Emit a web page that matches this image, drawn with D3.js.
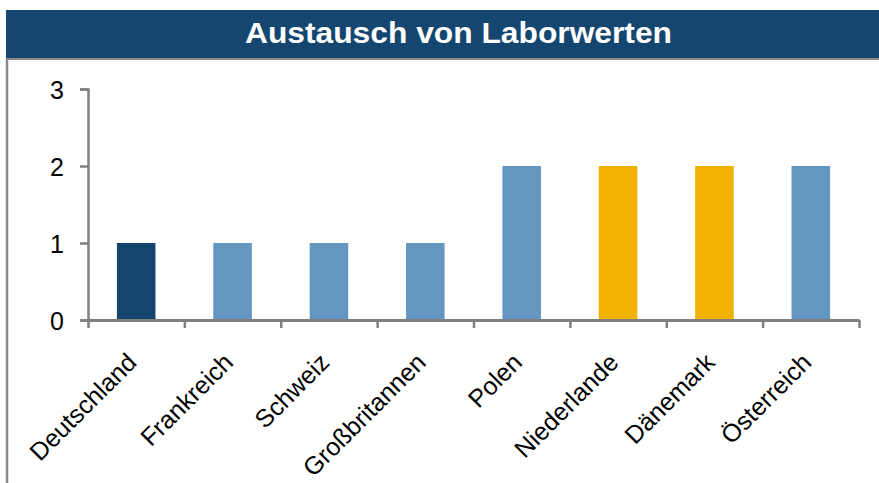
<!DOCTYPE html>
<html>
<head>
<meta charset="utf-8">
<script src="https://cdn.jsdelivr.net/npm/d3@7"></script>
<style>
  html, body { margin: 0; padding: 0; background: #fff; }
  svg { display: block; font-family: "Liberation Sans", Arial, sans-serif; }
</style>
</head>
<body>
<div id="chart"></div>
<script>
// Chart data
const title = 'Austausch von Laborwerten';
const countries = ['Deutschland', 'Frankreich', 'Schweiz', 'Großbritannen', 'Polen', 'Niederlande', 'Dänemark', 'Österreich'];
const values = [1, 1, 1, 1, 2, 2, 2, 2];
const groups = ['home', 'other', 'other', 'other', 'other', 'gold', 'gold', 'other'];
const yTicks = [0, 1, 2, 3];

const W = 879, H = 483;
const margin = { top: 89, right: 20, bottom: 163, left: 88 };
const colorMap = { home: '#13456e', other: '#6397c2', gold: '#f2b100' };
const axisColor = '#7f7f7f';

const svg = d3.select('#chart').append('svg')
    .attr('width', W)
    .attr('height', H);

// Title banner
svg.append('rect')
    .attr('x', 6).attr('y', 10)
    .attr('width', W - 6).attr('height', 48)
    .attr('fill', '#15466f');
svg.append('line')
    .attr('x1', 6).attr('x2', W)
    .attr('y1', 59).attr('y2', 59)
    .attr('stroke', '#8a8a8a').attr('stroke-width', 2);
svg.append('line')
    .attr('x1', 7).attr('x2', 7)
    .attr('y1', 58).attr('y2', H)
    .attr('stroke', '#8a8a8a').attr('stroke-width', 2.5);
svg.append('text')
    .attr('x', 245).attr('y', 43)
    .attr('textLength', 427)
    .attr('lengthAdjust', 'spacingAndGlyphs')
    .style('font-size', '29px')
    .style('font-weight', 'bold')
    .style('fill', '#fff')
    .text(title);

// Scales
const x = d3.scaleBand()
    .domain(countries)
    .range([margin.left, W - margin.right])
    .paddingInner(0.6)
    .paddingOuter(0.3);

const y = d3.scaleLinear()
    .domain([0, 3])
    .range([H - margin.bottom, margin.top]);

const slots = d3.scaleLinear()
    .domain([0, countries.length])
    .range([margin.left, W - margin.right]);

// Bars
svg.selectAll('.bar')
    .data(countries.map((c, i) => ({ country: c, value: values[i], group: groups[i] })))
    .enter()
    .append('rect')
    .attr('class', 'bar')
    .attr('x', d => x(d.country))
    .attr('y', d => y(d.value))
    .attr('width', x.bandwidth())
    .attr('height', d => y(0) - y(d.value))
    .attr('fill', d => colorMap[d.group]);

// Y axis
const yAxis = svg.append('g')
    .attr('transform', `translate(${margin.left}, 0)`)
    .call(d3.axisLeft(y).tickValues(yTicks).tickFormat(d3.format('d')).tickSize(8).tickPadding(16));
yAxis.select('.domain').attr('stroke', axisColor).attr('stroke-width', 2.5);
yAxis.selectAll('.tick line').attr('stroke', axisColor).attr('stroke-width', 2.5);
yAxis.selectAll('.tick text')
    .style('font-size', '25px')
    .style('fill', '#000')
    .attr('dy', '0.36em');

// X axis: tick marks between categories
const xAxis = svg.append('g')
    .attr('transform', `translate(0, ${y(0)})`)
    .call(d3.axisBottom(slots).tickValues(d3.range(countries.length + 1)).tickFormat('').tickSize(8).tickSizeOuter(0));
xAxis.select('.domain').attr('stroke', axisColor).attr('stroke-width', 3);
xAxis.selectAll('.tick line').attr('stroke', axisColor).attr('stroke-width', 2.5);

// Rotated category labels
svg.selectAll('.xlabel')
    .data(countries)
    .enter()
    .append('text')
    .attr('class', 'xlabel')
    .attr('transform', d => `translate(${x(d) + x.bandwidth() / 2 + 2}, ${y(0) + 44}) rotate(-45)`)
    .attr('text-anchor', 'end')
    .style('font-size', '25px')
    .style('fill', '#000')
    .text(d => d);
</script>
</body>
</html>
